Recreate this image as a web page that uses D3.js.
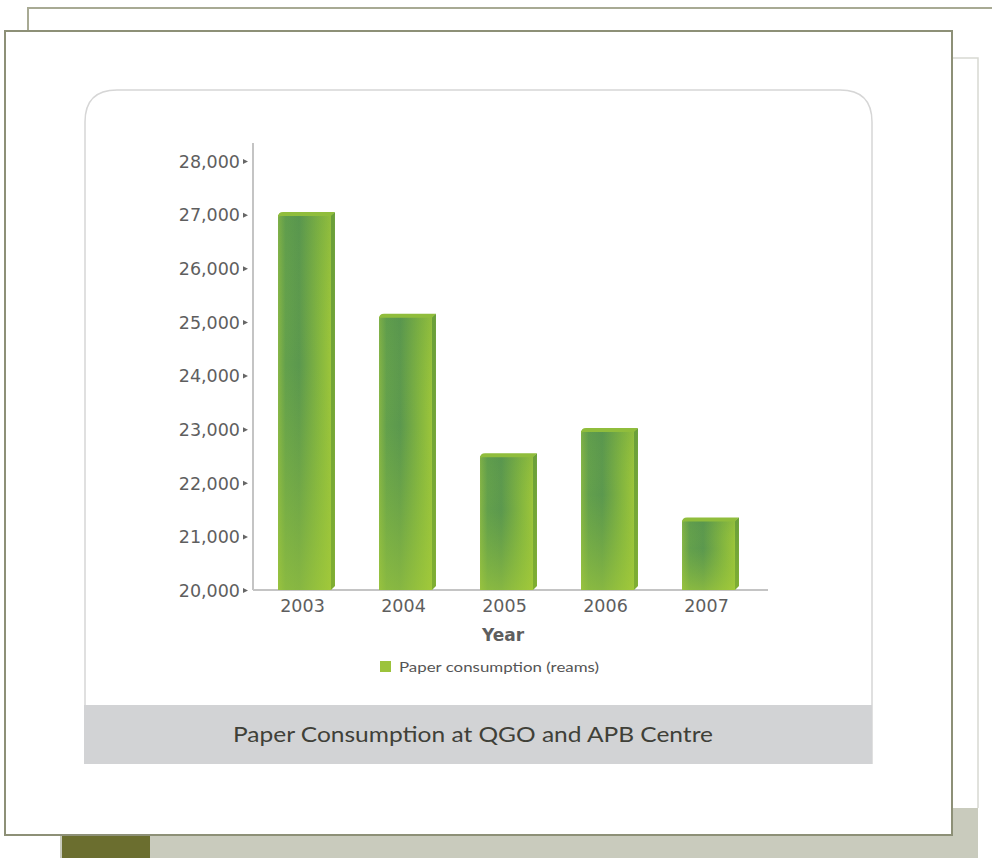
<!DOCTYPE html>
<html>
<head>
<meta charset="utf-8">
<script src="https://cdn.jsdelivr.net/npm/d3@7/dist/d3.min.js"></script>
<style>
  html, body { margin: 0; padding: 0; background: #ffffff; }
  svg { display: block; }
</style>
</head>
<body>
<svg id="chart" width="992" height="858"></svg>
<script>
// Paper consumption (reams) per year
const years = ["2003", "2004", "2005", "2006", "2007"];
const reams = [27050, 25150, 22550, 23020, 21350];
const yTicks = [20000, 21000, 22000, 23000, 24000, 25000, 26000, 27000, 28000];
const chartTitle = "Paper Consumption at QGO and APB Centre";
const xTitle = "Year";
const legendLabel = "Paper consumption (reams)";

const svg = d3.select("#chart");
const defs = svg.append("defs");

// Bar shading: horizontal sweep plus a brighter lower half
const gH = defs.append("linearGradient").attr("id", "barH")
  .attr("x1", 0).attr("y1", 0).attr("x2", 1).attr("y2", 0);
[["0%", "#86b545"], ["14%", "#63a04c"], ["40%", "#5b984e"], ["78%", "#84b63f"], ["100%", "#9cc53a"]]
  .forEach(([o, c]) => gH.append("stop").attr("offset", o).attr("stop-color", c));
const gV = defs.append("linearGradient").attr("id", "barV")
  .attr("x1", 0).attr("y1", 0).attr("x2", 0).attr("y2", 1);
[["0%", "#4a8a50", 0.15], ["40%", "#8fbf3a", 0.0], ["100%", "#a4cb3a", 0.6]]
  .forEach(([o, c, a]) => gV.append("stop").attr("offset", o).attr("stop-color", c).attr("stop-opacity", a));
const gSide = defs.append("linearGradient").attr("id", "barSide")
  .attr("x1", 0).attr("y1", 0).attr("x2", 0).attr("y2", 1);
[["0%", "#6a9f3a"], ["100%", "#7fae32"]]
  .forEach(([o, c]) => gSide.append("stop").attr("offset", o).attr("stop-color", c));

// Page frames behind the chart card
svg.append("rect").attr("x", 60).attr("y", 808).attr("width", 918).attr("height", 50).attr("fill", "#c9cbbd");
svg.append("rect").attr("x", 62).attr("y", 835).attr("width", 88).attr("height", 23).attr("fill", "#6b6e2f");
svg.append("path").attr("d", "M952,58 H978 V808").attr("fill", "none").attr("stroke", "#d8d9d2").attr("stroke-width", 1.5);
svg.append("path").attr("d", "M28,31 V8 H992").attr("fill", "none").attr("stroke", "#a8aa94").attr("stroke-width", 2);

// Main card
svg.append("rect").attr("x", 5).attr("y", 31).attr("width", 947).attr("height", 804)
  .attr("fill", "#ffffff").attr("stroke", "#8d9077").attr("stroke-width", 2);

// Rounded chart panel
const px0 = 85, px1 = 872, py0 = 90, py1 = 764, r = 32;
svg.append("path")
  .attr("d", `M${px0},${py1} V${py0 + r} Q${px0},${py0} ${px0 + r},${py0} H${px1 - r} Q${px1},${py0} ${px1},${py0 + r} V${py1}`)
  .attr("fill", "#ffffff").attr("stroke", "#d6d6d6").attr("stroke-width", 1.5);

// Title bar
svg.append("rect").attr("x", 84).attr("y", 705).attr("width", 788).attr("height", 59).attr("fill", "#d2d3d5");
svg.append("text").attr("x", 473).attr("y", 742).attr("text-anchor", "middle")
  .attr("font-family", "Lato, 'Noto Sans', sans-serif").attr("font-size", 21)
  .attr("fill", "#3f4038").attr("textLength", 480).attr("lengthAdjust", "spacingAndGlyphs")
  .text(chartTitle);

// Scales
const y = d3.scaleLinear().domain([20000, 28000]).range([590, 161]);
const x = d3.scaleBand().domain(years).range([256, 761]).paddingInner(0.436).paddingOuter(0.218);

// Axes lines
svg.append("line").attr("x1", 253).attr("x2", 253).attr("y1", 143).attr("y2", 590)
  .attr("stroke", "#c4c4c4").attr("stroke-width", 2);
svg.append("line").attr("x1", 253).attr("x2", 768).attr("y1", 590).attr("y2", 590)
  .attr("stroke", "#c4c4c4").attr("stroke-width", 2);

// Y axis labels via d3 axis, with small triangle markers
const yAxis = d3.axisLeft(y).tickValues(yTicks).tickFormat(d3.format(",")).tickSize(0).tickPadding(13);
const gy = svg.append("g").attr("transform", "translate(253,0)").call(yAxis);
gy.select(".domain").remove();
gy.selectAll("text").attr("font-family", "'DejaVu Sans', sans-serif").attr("font-size", 17.5)
  .attr("fill", "#5e5e5e").attr("dy", "0.36em");
gy.selectAll(".tick").append("path").attr("d", "M-10,-2.5 L-5,0 L-10,2.5 Z").attr("fill", "#666");

// Bars
const sideW = 4;
const bars = svg.append("g");
years.forEach((yr, i) => {
  const v = reams[i];
  const bx = x(yr), bw = x.bandwidth(), top = y(v), bot = y(20000);
  const fw = bw - sideW;
  // right side face
  bars.append("path")
    .attr("d", `M${bx + fw},${top + 3} L${bx + bw},${top} V${bot - 4} L${bx + fw},${bot} Z`)
    .attr("fill", "url(#barSide)");
  // front face
  bars.append("rect").attr("x", bx).attr("y", top + 3).attr("width", fw).attr("height", bot - top - 3)
    .attr("fill", "url(#barH)");
  bars.append("rect").attr("x", bx).attr("y", top + 3).attr("width", fw).attr("height", bot - top - 3)
    .attr("fill", "url(#barV)");
  // top bevel
  bars.append("path")
    .attr("d", `M${bx},${top + 5} Q${bx},${top} ${bx + 5},${top} H${bx + bw} L${bx + fw},${top + 4} H${bx + 2} Z`)
    .attr("fill", "#90bd3c");
});

// X axis labels via d3 axis
const xAxis = d3.axisBottom(x).tickSize(0).tickPadding(10);
const gx = svg.append("g").attr("transform", "translate(0,590)").call(xAxis);
gx.select(".domain").remove();
gx.selectAll("text").attr("font-family", "'DejaVu Sans', sans-serif").attr("font-size", 17.5)
  .attr("fill", "#5e5e5e").attr("dx", "-4");

svg.append("text").attr("x", 503).attr("y", 641).attr("text-anchor", "middle")
  .attr("font-family", "'DejaVu Sans', sans-serif").attr("font-weight", "bold").attr("font-size", 17)
  .attr("fill", "#5e5e5e").text(xTitle);

// Legend
svg.append("rect").attr("x", 380).attr("y", 661).attr("width", 11).attr("height", 11).attr("fill", "#9cc33b");
svg.append("text").attr("x", 399).attr("y", 672)
  .attr("font-family", "Lato, 'Noto Sans', sans-serif").attr("font-size", 14)
  .attr("fill", "#555").attr("textLength", 200).attr("lengthAdjust", "spacingAndGlyphs")
  .text(legendLabel);
</script>
</body>
</html>
